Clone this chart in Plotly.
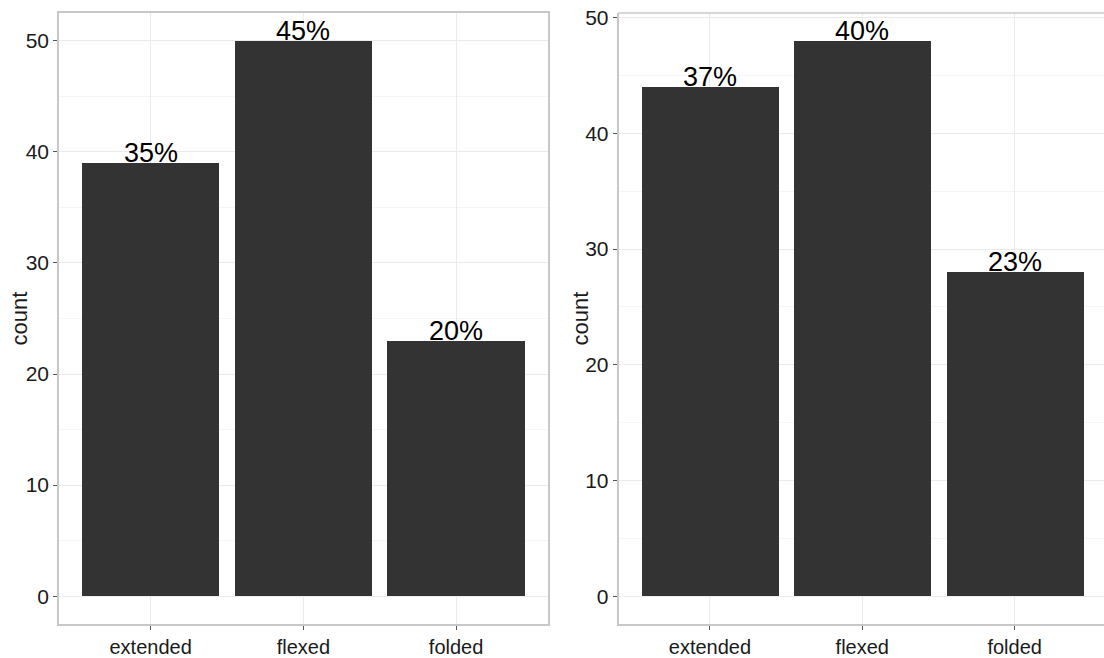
import plotly.graph_objects as go

categories = ["extended", "flexed", "folded"]
left_counts = [39, 50, 23]
left_labels = ["35%", "45%", "20%"]
right_counts = [44, 48, 28]
right_labels = ["37%", "40%", "23%"]
y_ticks = [0, 10, 20, 30, 40, 50]

BAR = "#333333"
GRID = "#ebebeb"
BORDER = "#c8c8c8"
FONT = "Liberation Sans, Arial, sans-serif"
TXT = "#1a1a1a"

fig = go.Figure()
fig.add_trace(go.Bar(x=categories, y=left_counts, marker=dict(color=BAR, line=dict(width=0)),
                     width=0.9, xaxis="x", yaxis="y", showlegend=False, hoverinfo="skip"))
fig.add_trace(go.Bar(x=categories, y=right_counts, marker=dict(color=BAR, line=dict(width=0)),
                     width=0.9, xaxis="x2", yaxis="y2", showlegend=False, hoverinfo="skip"))

W, H = 1104, 658
ml, mr, mt, mb = 59, 0, 13, 27
pw = W - ml - mr
d1 = [0, 488.7 / pw]
d2 = [(618.5 - ml) / pw, 1]

base_x = dict(type="category", showgrid=True, gridcolor=GRID, gridwidth=1,
              showline=True, linecolor=BORDER, linewidth=1.5,
              ticks="outside", ticklen=4, tickcolor="#555", tickwidth=1,
              tickfont=dict(family=FONT, size=20, color=TXT), zeroline=False)
base_y = dict(showgrid=True, gridcolor=GRID, gridwidth=1,
              minor=dict(showgrid=True, gridcolor="#f5f5f5", gridwidth=1, dtick=5),
              showline=True, linecolor=BORDER, linewidth=1.5,
              ticks="outside", ticklen=4, tickcolor="#555", tickwidth=1,
              tickvals=y_ticks, tickfont=dict(family=FONT, size=21, color=TXT),
              zeroline=False)

right_span = (1106 - 618.5) / 153.0
fig.update_layout(
    width=W, height=H,
    margin=dict(l=ml, r=mr, t=mt, b=mb),
    plot_bgcolor="white", paper_bgcolor="white",
    bargap=0,
    xaxis=dict(domain=d1, range=[-0.6, 2.6], anchor="y", mirror=True, **base_x),
    yaxis=dict(domain=[0, 1], range=[-2.5, 52.5], anchor="x", mirror=True, **base_y),
    xaxis2=dict(domain=d2, range=[-0.6, -0.6 + right_span], anchor="y2", mirror=False, **base_x),
    yaxis2=dict(domain=[0, 1], range=[-2.4, 50.4], anchor="x2", mirror=False, **base_y),
    shapes=[dict(type="line", xref="x2 domain", yref="y2 domain", x0=0, x1=1, y0=1, y1=1,
                 line=dict(color=BORDER, width=1.5))],
)

annotations = []
for c, v, t in zip(categories, left_counts, left_labels):
    annotations.append(dict(x=c, y=v, xref="x", yref="y", text=t, showarrow=False,
                            yanchor="bottom", yshift=-7,
                            font=dict(family=FONT, size=27, color="black")))
for c, v, t in zip(categories, right_counts, right_labels):
    annotations.append(dict(x=c, y=v, xref="x2", yref="y2", text=t, showarrow=False,
                            yanchor="bottom", yshift=-7,
                            font=dict(family=FONT, size=27, color="black")))
for xp in [(19 - ml) / pw, (580 - ml) / pw]:
    annotations.append(dict(x=xp, y=0.5, xref="paper", yref="paper", text="count",
                            textangle=-90, showarrow=False, xanchor="center", yanchor="middle",
                            font=dict(family=FONT, size=22, color=TXT)))
fig.update_layout(annotations=annotations)

fig.write_html("out.html", config={"displayModeBar": False},
               post_script="document.body.style.margin='0';document.body.style.overflow='hidden';")
